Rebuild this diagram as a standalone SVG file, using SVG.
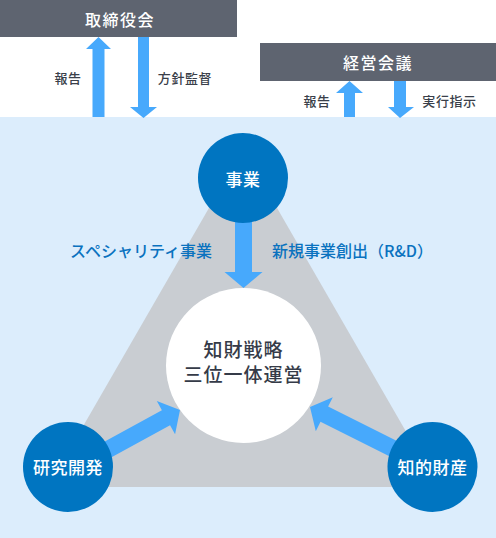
<svg xmlns="http://www.w3.org/2000/svg" width="496" height="538" viewBox="0 0 496 538">
<defs>
<style>
.jp{font-family:"Noto Sans CJK JP","Noto Sans",sans-serif;}
.box{fill:#5e6470;}
.boxt{fill:#ffffff;font-size:16px;font-weight:500;letter-spacing:1.5px;}
.sm{fill:#3a3f4a;font-size:13px;font-weight:500;letter-spacing:0.6px;}
.node{fill:#0075c1;}
.nodet{fill:#ffffff;font-size:17px;font-weight:500;letter-spacing:0.5px;}
.lbl{fill:#0a72bf;font-size:16px;font-weight:500;}
.ctr{fill:#353b48;font-size:19px;font-weight:500;letter-spacing:1px;}
.arr{fill:#47a9fc;}
</style>
</defs>
<rect x="0" y="0" width="496" height="538" fill="#ffffff"/>
<rect x="0" y="117" width="496" height="421" fill="#dcedfc"/>
<polygon points="243,149 48,487 438,487" fill="#c9cdd2"/>

<g id="torishimariyakukai">
<rect class="box" x="0" y="0" width="237" height="37"/>
<text class="jp boxt" x="120" y="18.5" text-anchor="middle" dominant-baseline="central">取締役会</text>
</g>
<g id="keieikaigi">
<rect class="box" x="260" y="43" width="236" height="38"/>
<text class="jp boxt" x="378" y="62" text-anchor="middle" dominant-baseline="central">経営会議</text>
</g>

<g id="connectors">
<polygon class="arr" points="92.5,117 92.5,49 86,49 98.5,37 111,49 104.5,49 104.5,117"/>
<polygon class="arr" points="138,37 149,37 149,107 157,107 143.5,118 130,107 138,107"/>
<polygon class="arr" points="344,117 344,93 336,93 349.5,81 363,93 355,93 355,117"/>
<polygon class="arr" points="394,81 406,81 406,107 414,107 400,118 388,107 394,107"/>
<polygon class="arr" transform="translate(243.5,288) rotate(90)" points="-70,-8.5 -16,-8.5 -16,-19 0,0 -16,19 -16,8.5 -70,8.5"/>
<polygon class="arr" transform="translate(180,410) rotate(-28.7)" points="-127,-8.5 -16,-8.5 -16,-19 0,0 -16,19 -16,8.5 -127,8.5"/>
<polygon class="arr" transform="translate(310,407) rotate(206.6)" points="-136,-8.5 -16,-8.5 -16,-19 0,0 -16,19 -16,8.5 -136,8.5"/>
<text class="jp sm" x="68" y="77" text-anchor="middle" dominant-baseline="central">報告</text>
<text class="jp sm" x="185" y="77" text-anchor="middle" dominant-baseline="central">方針監督</text>
<text class="jp sm" x="317" y="100" text-anchor="middle" dominant-baseline="central">報告</text>
<text class="jp sm" x="449.5" y="100" text-anchor="middle" dominant-baseline="central">実行指示</text>
<text class="jp lbl" x="141" y="250" text-anchor="middle" dominant-baseline="central">スペシャリティ事業</text>
<text class="jp lbl" x="352.5" y="250" text-anchor="middle" dominant-baseline="central">新規事業創出（R&amp;D）</text>
</g>

<g id="center">
<circle cx="243.5" cy="365.5" r="77.5" fill="#ffffff"/>
<text class="jp ctr" x="243.5" y="348" text-anchor="middle" dominant-baseline="central">知財戦略</text>
<text class="jp ctr" x="243.5" y="373" text-anchor="middle" dominant-baseline="central">三位一体運営</text>
</g>
<g id="jigyo">
<circle class="node" cx="243" cy="178" r="45"/>
<text class="jp nodet" x="243" y="178" text-anchor="middle" dominant-baseline="central">事業</text>
</g>
<g id="kenkyukaihatsu">
<circle class="node" cx="68" cy="467" r="45"/>
<text class="jp nodet" x="68" y="466" text-anchor="middle" dominant-baseline="central">研究開発</text>
</g>
<g id="chitekizaisan">
<circle class="node" cx="432.5" cy="467" r="45"/>
<text class="jp nodet" x="432.5" y="466" text-anchor="middle" dominant-baseline="central">知的財産</text>
</g>
</svg>
